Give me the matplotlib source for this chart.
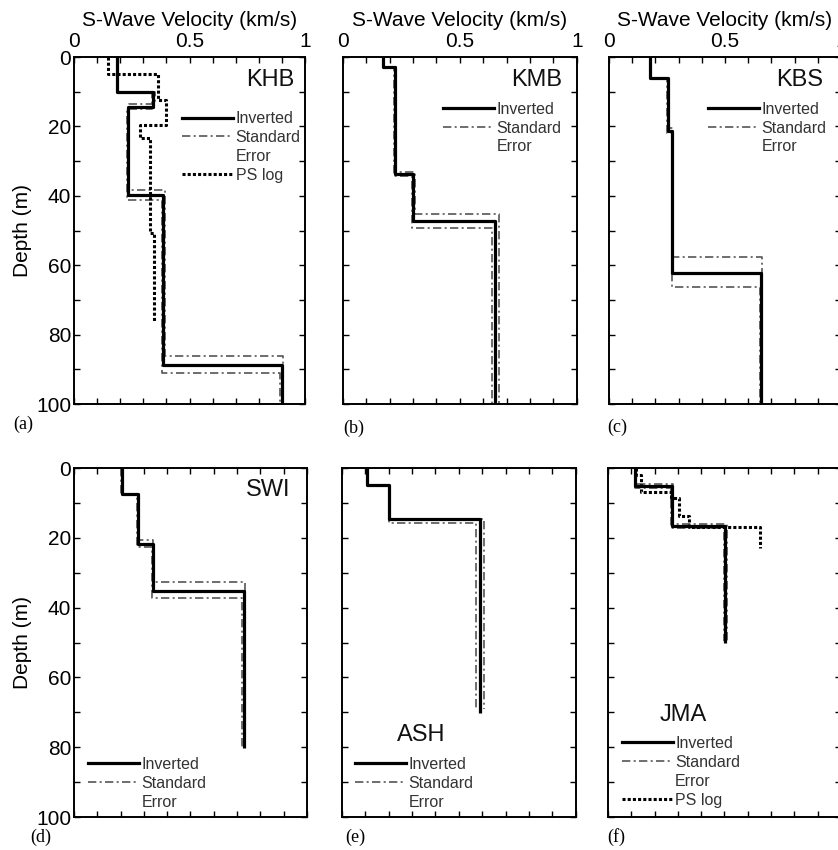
import numpy as np
import matplotlib
matplotlib.use('Agg')
import matplotlib.pyplot as plt
from matplotlib.lines import Line2D
from matplotlib.ticker import MultipleLocator

plt.rcParams['font.family'] = ['Liberation Sans', 'DejaVu Sans']

# --- данные профилей (глубина границ слоёв, м; скорость Vs, км/с) ---
# KHB
khb_inv_depth = [0, 10, 14.3, 39.8, 88.8, 100]
khb_inv_vs = [0.187, 0.343, 0.235, 0.387, 0.899]
khb_se1_depth = [0, 10, 13.4, 38.3, 86.2, 100]
khb_se1_vs = [0.19, 0.35, 0.24, 0.392, 0.905]
khb_se2_depth = [0, 10, 15.0, 41.2, 91.2, 100]
khb_se2_vs = [0.184, 0.336, 0.23, 0.382, 0.893]
khb_ps_depth = [0, 4.9, 12.4, 19.6, 23.4, 50.8, 76.2]
khb_ps_vs = [0.149, 0.365, 0.398, 0.286, 0.329, 0.346]

# KMB
kmb_inv_depth = [0, 2.9, 33.6, 47.3, 100]
kmb_inv_vs = [0.174, 0.224, 0.302, 0.651]
kmb_se1_depth = [0, 2.9, 33.0, 45.1, 100]
kmb_se1_vs = [0.176, 0.228, 0.31, 0.668]
kmb_se2_depth = [0, 2.9, 34.2, 49.2, 100]
kmb_se2_vs = [0.172, 0.22, 0.297, 0.637]

# KBS
kbs_inv_depth = [0, 5.9, 21.2, 62.1, 100]
kbs_inv_vs = [0.177, 0.253, 0.273, 0.655]
kbs_se1_depth = [0, 5.9, 20.5, 57.5, 100]
kbs_se1_vs = [0.178, 0.256, 0.276, 0.66]
kbs_se2_depth = [0, 5.9, 22.0, 66.3, 100]
kbs_se2_vs = [0.176, 0.25, 0.27, 0.652]

# SWI
swi_inv_depth = [0, 7.5, 21.7, 35.1, 80.2]
swi_inv_vs = [0.205, 0.274, 0.337, 0.728]
swi_se1_depth = [0, 7.5, 20.6, 32.7, 80]
swi_se1_vs = [0.207, 0.278, 0.34, 0.735]
swi_se2_depth = [0, 7.5, 22.6, 37.3, 80]
swi_se2_vs = [0.203, 0.27, 0.334, 0.72]

# ASH
ash_inv_depth = [0, 4.8, 14.6, 70.1]
ash_inv_vs = [0.108, 0.201, 0.589]
ash_se1_depth = [0, 4.8, 14.6, 69.0]
ash_se1_vs = [0.108, 0.201, 0.606]
ash_se2_depth = [0, 4.8, 15.8, 68.7]
ash_se2_vs = [0.108, 0.201, 0.572]

# JMA
jma_inv_depth = [0, 5.1, 16.6, 50]
jma_inv_vs = [0.117, 0.276, 0.504]
jma_se1_depth = [0, 4.6, 16.0, 50]
jma_se1_vs = [0.119, 0.28, 0.511]
jma_se2_depth = [0, 5.6, 17.2, 49.5]
jma_se2_vs = [0.115, 0.272, 0.497]
jma_ps_depth = [0, 2, 7, 8.5, 13.8, 17, 23]
jma_ps_vs = [0.12, 0.14, 0.27, 0.307, 0.347, 0.653]

stations = [
    ('KHB', khb_inv_depth, khb_inv_vs, khb_se1_depth, khb_se1_vs, khb_se2_depth, khb_se2_vs, khb_ps_depth, khb_ps_vs),
    ('KMB', kmb_inv_depth, kmb_inv_vs, kmb_se1_depth, kmb_se1_vs, kmb_se2_depth, kmb_se2_vs, None, None),
    ('KBS', kbs_inv_depth, kbs_inv_vs, kbs_se1_depth, kbs_se1_vs, kbs_se2_depth, kbs_se2_vs, None, None),
    ('SWI', swi_inv_depth, swi_inv_vs, swi_se1_depth, swi_se1_vs, swi_se2_depth, swi_se2_vs, None, None),
    ('ASH', ash_inv_depth, ash_inv_vs, ash_se1_depth, ash_se1_vs, ash_se2_depth, ash_se2_vs, None, None),
    ('JMA', jma_inv_depth, jma_inv_vs, jma_se1_depth, jma_se1_vs, jma_se2_depth, jma_se2_vs, jma_ps_depth, jma_ps_vs),
]
panel_letters = ['(a)', '(b)', '(c)', '(d)', '(e)', '(f)']

# положение осей (в долях фигуры), подписи станций и легенд
axes_pos = [
    [0.0883, 0.5247, 0.2757, 0.4082],
    [0.409, 0.5247, 0.2792, 0.4082],
    [0.7267, 0.5247, 0.2768, 0.4082],
    [0.0883, 0.0388, 0.2780, 0.4106],
    [0.408, 0.0388, 0.2792, 0.4106],
    [0.7255, 0.0388, 0.2780, 0.4106],
]
name_pos = [(0.848, 0.934), (0.829, 0.934), (0.823, 0.934),
            (0.833, 0.937), (0.34, 0.235), (0.322, 0.292)]
legend_pos = [(0.468, 0.844), (0.429, 0.871), (0.427, 0.871),
              (0.06, 0.172), (0.056, 0.172), (0.059, 0.232)]
letter_pos = [(13, 424), (343, 428), (607, 427), (30, 837), (345, 837), (607, 837)]


def stair(depth, vs):
    d = np.asarray(depth, dtype=float)
    v = np.asarray(vs, dtype=float)
    return np.repeat(v, 2), np.column_stack([d[:-1], d[1:]]).ravel()


fig = plt.figure(figsize=(8.38, 8.5), dpi=100)

se_style = dict(color='#555555', lw=1.2, linestyle=(0, (5, 2, 1.2, 2)))
ps_style = dict(color='black', lw=2.2, linestyle=(0, (1.0, 0.7)))

for i, (name, inv_d, inv_v, s1_d, s1_v, s2_d, s2_v, ps_d, ps_v) in enumerate(stations):
    ax = fig.add_axes(axes_pos[i])

    x, y = stair(s1_d, s1_v)
    ax.plot(x, y, **se_style)
    x, y = stair(s2_d, s2_v)
    ax.plot(x, y, **se_style)
    if ps_d is not None:
        x, y = stair(ps_d, ps_v)
        ax.plot(x, y, **ps_style)
    x, y = stair(inv_d, inv_v)
    ax.plot(x, y, color='black', lw=2.3, solid_capstyle='butt')

    ax.set_xlim(0, 1)
    ax.set_ylim(100, 0)
    ax.xaxis.set_major_locator(MultipleLocator(0.5))
    ax.xaxis.set_minor_locator(MultipleLocator(0.1))
    ax.yaxis.set_major_locator(MultipleLocator(20))
    ax.yaxis.set_minor_locator(MultipleLocator(10))
    ax.xaxis.set_major_formatter(matplotlib.ticker.FuncFormatter(lambda v, p: '%g' % v))
    ax.tick_params(which='both', direction='in', top=True, bottom=True, left=True, right=True,
                   length=4, width=1, labelsize=15, pad=2)
    ax.tick_params(axis='x', labeltop=(i < 3), labelbottom=False, pad=4)
    ax.tick_params(axis='y', labelleft=(i % 3 == 0))
    for sp in ax.spines.values():
        sp.set_linewidth(1.4)

    if i < 3:
        ax.xaxis.set_label_position('top')
        ax.set_xlabel('S-Wave Velocity (km/s)', fontsize=15, labelpad=5)
    if i % 3 == 0:
        ax.set_ylabel('Depth (m)', fontsize=15, labelpad=3)

    ax.text(name_pos[i][0], name_pos[i][1], name, transform=ax.transAxes,
            fontsize=17, ha='center', va='center', color='#111111')

    handles = [Line2D([], [], color='black', lw=2.3),
               Line2D([], [], **se_style),
               Line2D([], [], color='none')]
    labels = ['Inverted', 'Standard', 'Error']
    if ps_d is not None:
        handles.append(Line2D([], [], **ps_style))
        labels.append('PS log')
    leg = ax.legend(handles, labels, loc='upper left', bbox_to_anchor=legend_pos[i],
                    frameon=False, fontsize=11.5, borderpad=0, borderaxespad=0,
                    handlelength=3.2, handletextpad=0.15, labelspacing=0.24)
    for t in leg.get_texts():
        t.set_color('#333333')

    fig.text(letter_pos[i][0] / 838, 1 - letter_pos[i][1] / 850, panel_letters[i],
             fontsize=13, family='Liberation Serif', va='center', ha='left')

fig.savefig('out.png', dpi=100)
